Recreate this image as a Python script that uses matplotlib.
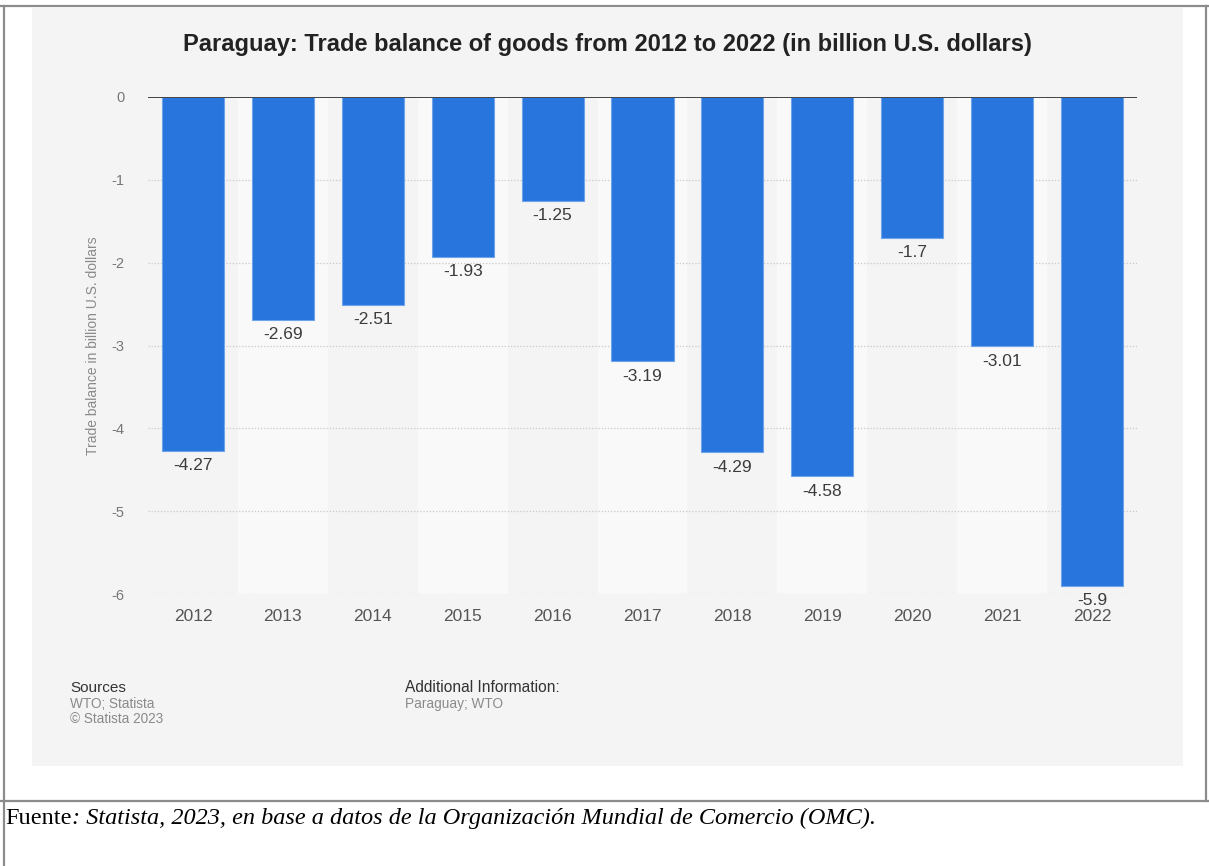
import matplotlib
matplotlib.use('Agg')
import matplotlib.pyplot as plt
from matplotlib.patches import Rectangle
from matplotlib.lines import Line2D
import numpy as np

plt.rcParams['font.family'] = ['Liberation Sans', 'DejaVu Sans']

# --- data ---
years = ['2012', '2013', '2014', '2015', '2016', '2017',
         '2018', '2019', '2020', '2021', '2022']
balance = [-4.27, -2.69, -2.51, -1.93, -1.25, -3.19,
           -4.29, -4.58, -1.7, -3.01, -5.9]
value_labels = ['-4.27', '-2.69', '-2.51', '-1.93', '-1.25', '-3.19',
                '-4.29', '-4.58', '-1.7', '-3.01', '-5.9']
yticks = [0, -1, -2, -3, -4, -5, -6]

W, H = 1209, 866
fig = plt.figure(figsize=(W / 100, H / 100), dpi=100)
fig.patch.set_facecolor('white')

def px(x, y):
    return x / W, 1 - y / H

# gray background panel
x0, y0 = px(32, 766)
fig.patches.append(Rectangle((x0, y0), (1183 - 32) / W, (766 - 8) / H,
                             transform=fig.transFigure, facecolor='#f4f4f4',
                             edgecolor='none', zorder=-10))

# outer frame lines
frame = '#8c8c8c'
for (xa, ya), (xb, yb) in [((0, 6), (1209, 6)), ((4, 6), (4, 866)),
                           ((1206, 6), (1206, 801)), ((0, 801), (1209, 801))]:
    fig.lines.append(Line2D([xa / W, xb / W], [1 - ya / H, 1 - yb / H],
                            transform=fig.transFigure, color=frame, lw=1.6))

# plot area
left, right, top, bottom = 148, 1137, 97, 594
ax = fig.add_axes([left / W, 1 - bottom / H, (right - left) / W, (bottom - top) / H])
ax.set_zorder(5)
ax.set_facecolor('none')
x = np.arange(len(years))

# alternating column shading
for i in x:
    if i % 2 == 1:
        ax.axvspan(i - 0.5, i + 0.5, ymin=0, ymax=1, color='#f9f9f9', lw=0, zorder=0)

for yv in yticks[1:]:
    ax.axhline(yv, color='#c9c9c9', lw=0.9, ls=(0, (1, 1.5)), zorder=1)

ax.bar(x, balance, width=0.69, color='#2876dd', edgecolor='#6fa3ea',
       linewidth=0.8, zorder=2)
ax.axhline(0, color='#444444', lw=1.4, zorder=3)

for xi, v, lab in zip(x, balance, value_labels):
    ax.text(xi, v - 0.18, lab, ha='center', va='center', fontsize=12.5,
            color='#3c3c3c', zorder=4)

ax.set_xlim(-0.5, len(years) - 0.5)
ax.set_ylim(-6, 0)
ax.set_xticks(x)
ax.set_xticklabels(years, fontsize=12.5, color='#555555')
ax.set_yticks(yticks)
ax.set_yticklabels([str(t) for t in yticks], fontsize=10.5, color='#777777')
ax.tick_params(axis='x', length=0, pad=11)
ax.tick_params(axis='y', length=0, pad=17)
for s in ax.spines.values():
    s.set_visible(False)
ax.set_ylabel('Trade balance in billion U.S. dollars', fontsize=10,
              color='#8a8a8a', labelpad=8)

# title
fig.text(*px(607, 45), 'Paraguay: Trade balance of goods from 2012 to 2022 (in billion U.S. dollars)',
         ha='center', va='center', fontsize=17, fontweight='bold', color='#222222')

# sources / additional info
fig.text(*px(70, 688), 'Sources', fontsize=11, color='#333333', va='center')
fig.text(*px(70, 704), 'WTO; Statista', fontsize=9.8, color='#8a8a8a', va='center')
fig.text(*px(70, 719), '\u00a9 Statista 2023', fontsize=9.8, color='#8a8a8a', va='center')
fig.text(*px(405, 688), 'Additional Information:', fontsize=11.2, color='#333333', va='center')
fig.text(*px(405, 704), 'Paraguay; WTO', fontsize=9.8, color='#8a8a8a', va='center')

# footer note
t1 = fig.text(*px(5, 818), 'Fuente', fontsize=17.5, family='Liberation Serif',
              color='black', va='center')
fig.canvas.draw()
bb = t1.get_window_extent()
fig.text(bb.x1 / W, 1 - 818 / H,
         ': Statista, 2023, en base a datos de la Organización Mundial de Comercio (OMC).',
         fontsize=17.5, family='Liberation Serif', style='italic', color='black', va='center')

plt.savefig('out.png', dpi=100, facecolor='white')
